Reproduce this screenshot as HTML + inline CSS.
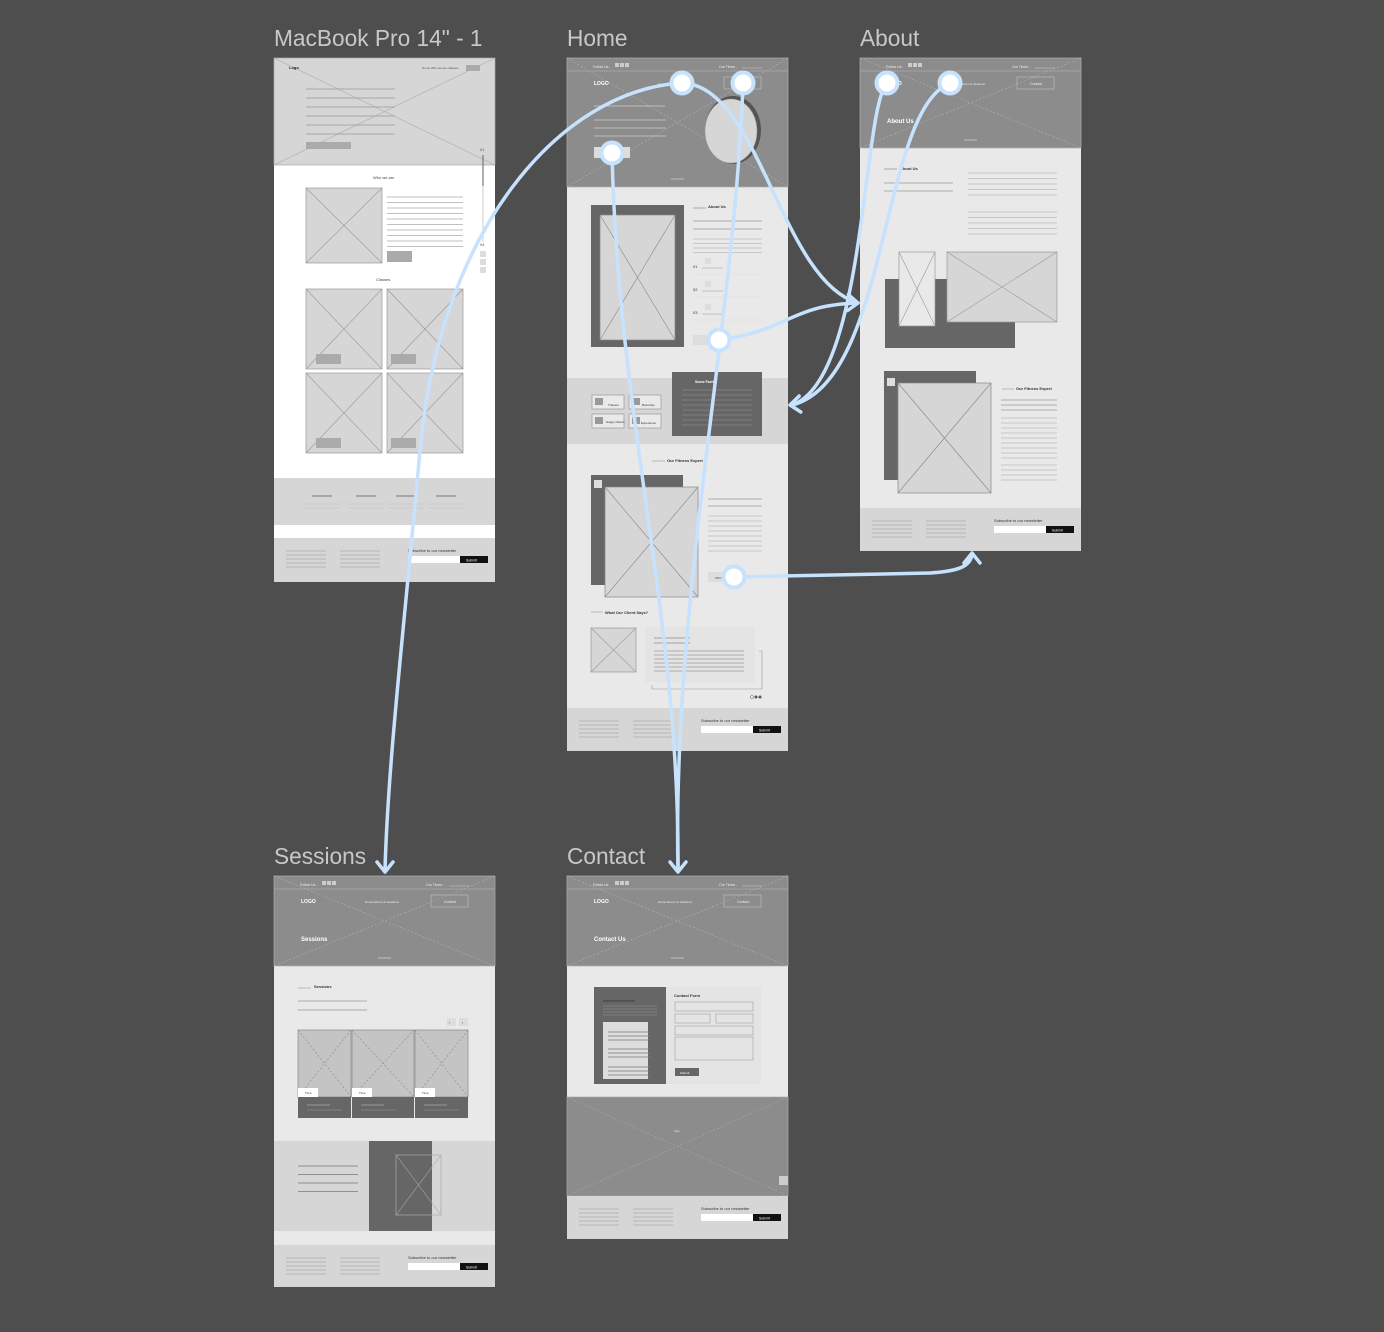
<!DOCTYPE html>
<html><head><meta charset="utf-8"><style>
html,body{margin:0;padding:0;background:#4e4e4e;}
svg{display:block;font-family:"Liberation Sans",sans-serif;}
</style></head><body>
<svg id="s" width="1384" height="1332" xmlns="http://www.w3.org/2000/svg"></svg>
<script>
var o='';
function R(x,y,w,h,f,st){o+='<rect x="'+x+'" y="'+y+'" width="'+w+'" height="'+h+'" fill="'+f+'"'+(st?' stroke="'+st+'" stroke-width="0.7"':'')+'/>';}
function L(x1,y1,x2,y2,c,w,d){o+='<line x1="'+x1+'" y1="'+y1+'" x2="'+x2+'" y2="'+y2+'" stroke="'+(c||'#999')+'" stroke-width="'+(w||0.8)+'"'+(d?' stroke-dasharray="2 2"':'')+'/>';}
function X(x,y,w,h,f,c,d){R(x,y,w,h,f,c);L(x,y,x+w,y+h,c||'#888',0.6,d);L(x+w,y,x,y+h,c||'#888',0.6,d);}
function T(x,y,s,t,c,wgt){o+='<text x="'+x+'" y="'+y+'" font-size="'+s+'" fill="'+(c||'#333')+'"'+(wgt?' font-weight="bold"':'')+'>'+t+'</text>';}
function lines(x,y,w,n,gap,c){for(var i=0;i<n;i++)L(x,y+i*gap,x+w,y+i*gap,c||'#aaa',0.8);}
// titles
T(274,46,22.7,'MacBook Pro 14" - 1','#c8c8c8');
T(567,46,22.7,'Home','#c8c8c8');
T(860,46,22.7,'About','#c8c8c8');
T(274,864,22.7,'Sessions','#c8c8c8');
T(567,864,22.7,'Contact','#c8c8c8');
function hdr(x,y,h,title){
 X(x,y,221,h,'#8c8c8c','#b0b0b0',true);
 L(x,y+13,x+221,y+13,'#aaa',0.8);
 T(x+26,y+10,3.5,'Follow Us -','#eee');R(x+48,y+5,4,4,'#ccc');R(x+53,y+5,4,4,'#ccc');R(x+58,y+5,4,4,'#ccc');
 T(x+152,y+10,3.5,'Our Times -','#eee');L(x+175,y+10,x+195,y+10,'#ccc',0.6);
 T(x+27,y+27,5,'LOGO','#fff',1);T(x+91,y+27,3,'Home  About Us  Sessions','#eee');
 o+='<rect x="'+(x+157)+'" y="'+(y+19)+'" width="37" height="12" fill="none" stroke="#bbb" stroke-width="0.7"/>';T(x+170,y+27,3.5,'Contact','#eee');
 if(title)T(x+27,y+65,6,title,'#fff',1);
 L(x+104,y+h-8,x+117,y+h-8,'#ccc',0.8);
}
function footer(x,y,h){
 R(x,y,221,h,'#d6d6d6');
 lines(x+12,y+13,40,5,4,'#aaa');lines(x+66,y+13,40,5,4,'#aaa');
 T(x+134,y+14,4,'Subscribe to our newsletter','#333');
 R(x+134,y+18,52,7,'#fff');R(x+186,y+18,28,7,'#111');T(x+192,y+23.5,3.5,'Submit','#fff');
}
// ===== MacBook =====
(function(){var x=274,y=58;
 R(x,y,221,524,'#fff');
 X(x,y,221,107,'#d6d6d6','#aaa');
 T(x+15,y+11,4,'Logo','#222',1);T(x+148,y+11,3,'Home  Who we are  Classes','#555');R(x+192,y+7,14,6,'#aaa');
 lines(x+32,y+31,89,6,9,'#999');R(x+32,y+84,45,7,'#aaa');
 T(x+206,y+93,4,'01','#555');L(x+209,y+97,x+209,y+184,'#ccc',1);L(x+209,y+97,x+209,y+128,'#777',1.2);T(x+206,y+188,4,'04','#555');
 R(x+206,y+193,6,6,'#ddd');R(x+206,y+201,6,6,'#ddd');R(x+206,y+209,6,6,'#ddd');
 T(x+99,y+121,4,'Who we are','#444');
 X(x+32,y+130,76,75,'#d6d6d6','#999');lines(x+113,y+139,76,10,5.5,'#aaa');R(x+113,y+193,25,11,'#aaa');
 T(x+102,y+223,4,'Classes','#444');
 X(x+32,y+231,76,80,'#d6d6d6','#999');X(x+113,y+231,76,80,'#d6d6d6','#999');
 X(x+32,y+315,76,80,'#d6d6d6','#999');X(x+113,y+315,76,80,'#d6d6d6','#999');
 R(x+42,y+296,25,10,'#aaa');R(x+117,y+296,25,10,'#aaa');R(x+42,y+380,25,10,'#aaa');R(x+117,y+380,25,10,'#aaa');
 R(x,y+420,221,47,'#d6d6d6');
 [38,82,122,162].forEach(function(d){L(x+d,y+438,x+d+20,y+438,'#777',1);L(x+d-8,y+446,x+d+28,y+446,'#bbb',0.6);L(x+d-8,y+450,x+d+28,y+450,'#bbb',0.6);});
 footer(x,y+480,44);
})();
// ===== Home =====
(function(){var x=567,y=58;
 R(x,y,221,693,'#e9e9e9');
 hdr(x,y,129,'');
 L(x+27,y+48,x+98,y+48,'#ccc',0.8);lines(x+27,y+62,72,3,8,'#ccc');R(x+27,y+89,36,11,'#ddd');
 o+='<ellipse cx="'+(x+166)+'" cy="'+(y+72)+'" rx="28" ry="34" fill="#555"/>';
 o+='<ellipse cx="'+(x+164)+'" cy="'+(y+73)+'" rx="26" ry="32" fill="#d6d6d6" stroke="#999" stroke-width="0.6"/>';
 R(x+24,y+147,93,142,'#666');X(x+33,y+157,75,125,'#d6d6d6','#888');
 L(x+126,y+150,x+139,y+150,'#999',0.8);T(x+141,y+150,4,'About Us','#333',1);
 lines(x+126,y+163,69,2,8,'#999');lines(x+126,y+181,69,4,4.5,'#bbb');
 [0,23,46].forEach(function(d){T(x+126,y+210+d,4,'0'+(d/23+1),'#333');R(x+138,y+200+d,6,6,'#ddd');L(x+135,y+210+d,x+156,y+210+d,'#999',0.6);L(x+126,y+216+d,x+195,y+216+d,'#ddd',0.6);});
 R(x+126,y+277,25,10,'#ddd');
 R(x,y+320,221,66,'#d6d6d6');
 R(x+25,y+337,32,14,'#e9e9e9','#999');R(x+62,y+337,32,14,'#e9e9e9','#999');R(x+25,y+356,32,14,'#e9e9e9','#999');R(x+62,y+356,32,14,'#e9e9e9','#999');
 R(x+28,y+340,8,7,'#999');R(x+65,y+340,8,7,'#999');R(x+28,y+359,8,7,'#999');R(x+65,y+359,8,7,'#999');
 T(x+41,y+348,3,'Trainers','#333');T(x+75,y+348,3,'Branches','#333');T(x+39,y+365,3,'Happy Clients','#333');T(x+74,y+366,3,'Experience','#333');
 R(x+105,y+314,90,64,'#666');T(x+128,y+325,3.5,'Some Facts','#fff',1);lines(x+115,y+332,70,8,5,'#888');
 L(x+85,y+403,x+98,y+403,'#aaa',0.8);T(x+100,y+404,4,'Our Fitness Expert','#333',1);
 R(x+24,y+475-58,92,110,'#666');R(x+27,y+422,8,8,'#ddd');X(x+38,y+429,93,110,'#d6d6d6','#888');
 lines(x+141,y+441,54,2,7,'#999');lines(x+141,y+458,54,8,5,'#bbb');R(x+141,y+514,25,10,'#ddd');T(x+148,y+521,3,'PRO','#555');
 L(x+24,y+554,x+36,y+554,'#bbb',1);T(x+38,y+556,4,'What Our Client Says?','#333',1);
 X(x+24,y+570,45,44,'#d6d6d6','#999');
 R(x+78,y+569,110,55,'#e4e4e4');o+='<path d="M'+(x+85)+','+(y+627)+' v4 h110 v-38 h-3" fill="none" stroke="#999" stroke-width="0.6"/>';
 lines(x+87,y+580,36,2,5,'#888');lines(x+87,y+593,90,6,4,'#999');
 o+='<circle cx="'+(x+185)+'" cy="'+(y+639)+'" r="1.5" fill="none" stroke="#555" stroke-width="0.5"/><circle cx="'+(x+189)+'" cy="'+(y+639)+'" r="1.5" fill="#555"/><circle cx="'+(x+193)+'" cy="'+(y+639)+'" r="1.5" fill="#555"/>';
 footer(x,y+650,43);
})();
// ===== About =====
(function(){var x=860,y=58;
 R(x,y,221,493,'#e9e9e9');
 hdr(x,y,90,'About Us');
 L(x+24,y+111,x+37,y+111,'#999',0.8);T(x+40,y+112,4,'About Us','#333',1);lines(x+24,y+125,69,2,8,'#999');
 lines(x+108,y+115,89,5,5.5,'#bbb');lines(x+108,y+154,89,5,5.5,'#bbb');
 R(x+25,y+221,130,69,'#666');X(x+39,y+194,36,74,'#e9e9e9','#999');X(x+87,y+194,110,70,'#d6d6d6','#999');
 R(x+24,y+313,92,109,'#666');R(x+27,y+320,8,8,'#ddd');X(x+38,y+325,93,110,'#d6d6d6','#888');
 L(x+142,y+331,x+154,y+331,'#aaa',0.8);T(x+156,y+332,4,'Our Fitness Expert','#333',1);
 lines(x+141,y+342,56,3,5,'#999');lines(x+141,y+360,56,9,5,'#bbb');lines(x+141,y+407,56,4,5,'#bbb');
 footer(x,y+450,43);
})();
// ===== Sessions =====
(function(){var x=274,y=876;
 R(x,y,221,411,'#e9e9e9');
 hdr(x,y,90,'Sessions');
 L(x+24,y+112,x+37,y+112,'#bbb',1);T(x+40,y+112,4,'Sessions','#333',1);
 L(x+24,y+125,x+93,y+125,'#999',0.8);L(x+24,y+134,x+93,y+134,'#aaa',1);
 R(x+173,y+142,9,8,'#ddd');R(x+185,y+142,9,8,'#ddd');T(x+175,y+148,4,'‹','#333');T(x+188,y+148,4,'›','#333');
 [[24,53],[78,62],[141,53]].forEach(function(c){X(x+c[0],y+154,c[1],67,'#c4c4c4','#888',true);R(x+c[0],y+221,c[1],21,'#666');R(x+c[0],y+212,20,9,'#fff');T(x+c[0]+7,y+218,3,'Time','#333');L(x+c[0]+9,y+229,x+c[0]+32,y+229,'#aaa',0.8);L(x+c[0]+9,y+234,x+c[0]+44,y+234,'#999',0.6);});
 R(x,y+265,221,90,'#d6d6d6');R(x+95,y+265,63,90,'#666');X(x+122,y+279,45,60,'none','#aaa');
 lines(x+24,y+290,60,4,8.5,'#777');
 R(x,y+355,221,14,'#e9e9e9');
 footer(x,y+369,42);
})();
// ===== Contact =====
(function(){var x=567,y=876;
 R(x,y,221,363,'#e9e9e9');
 hdr(x,y,90,'Contact Us');
 R(x+27,y+111,167,97,'#e4e4e4');R(x+27,y+111,72,97,'#666');
 L(x+36,y+125,x+68,y+125,'#333',0.8);lines(x+36,y+130,54,4,3,'#888');
 R(x+36,y+146,45,57,'#ddd');lines(x+41,y+156,43,3,4,'#777');lines(x+41,y+173,43,3,4,'#777');lines(x+41,y+191,43,3,4,'#777');
 T(x+107,y+121,4,'Contact Form','#333',1);
 [[108,126,78,9],[108,138,35,9],[149,138,37,9],[108,150,78,9],[108,161,78,23]].forEach(function(r){o+='<rect x="'+(x+r[0])+'" y="'+(y+r[1])+'" width="'+r[2]+'" height="'+r[3]+'" fill="none" stroke="#aaa" stroke-width="0.7"/>';});
 R(x+108,y+192,24,8,'#666');T(x+113,y+198,3,'Submit','#fff');
 X(x,y+221,221,99,'#8c8c8c','#aaa',true);T(x+107,y+256,3,'Map','#ddd');R(x+212,y+300,9,9,'#ccc');
 footer(x,y+320,43);
})();
// ===== connectors =====
var C='#c6e2fc';
function P(d){o+='<path d="'+d+'" fill="none" stroke="'+C+'" stroke-width="3.5" stroke-linecap="round"/>';}
function A(x,y,dx,dy){var px=-dy,py=dx;o+='<path d="M'+(x-dx*10+px*8)+','+(y-dy*10+py*8)+' L'+x+','+y+' L'+(x-dx*10-px*8)+','+(y-dy*10-py*8)+'" fill="none" stroke="'+C+'" stroke-width="3.5" stroke-linecap="round" stroke-linejoin="round"/>';}
P('M682,83 C560,90 440,230 420,450 C405,620 388,760 385,870');A(385,872,0,1);
P('M612,153 C618,420 680,620 678,870');
P('M743,83 C735,320 672,600 678,870');A(678,872,0,1);
P('M682,83 C760,85 780,280 858,303');A(858,303,1,0.05);
P('M719,340 C790,330 790,305 858,303');
P('M887,83 C862,110 866,380 792,405');A(790,405,-1,0.1);
P('M950,83 C880,110 890,380 792,405');
P('M734,577 L930,573 C962,571 970,565 972,555');A(972,553,0,-1);
function N(x,y){o+='<circle cx="'+x+'" cy="'+y+'" r="10.5" fill="#fff" stroke="'+C+'" stroke-width="4"/>';}
N(682,83);N(743,83);N(612,153);N(719,340);N(734,577);N(887,83);N(950,83);
document.getElementById('s').innerHTML=o;
</script>
</body></html>
